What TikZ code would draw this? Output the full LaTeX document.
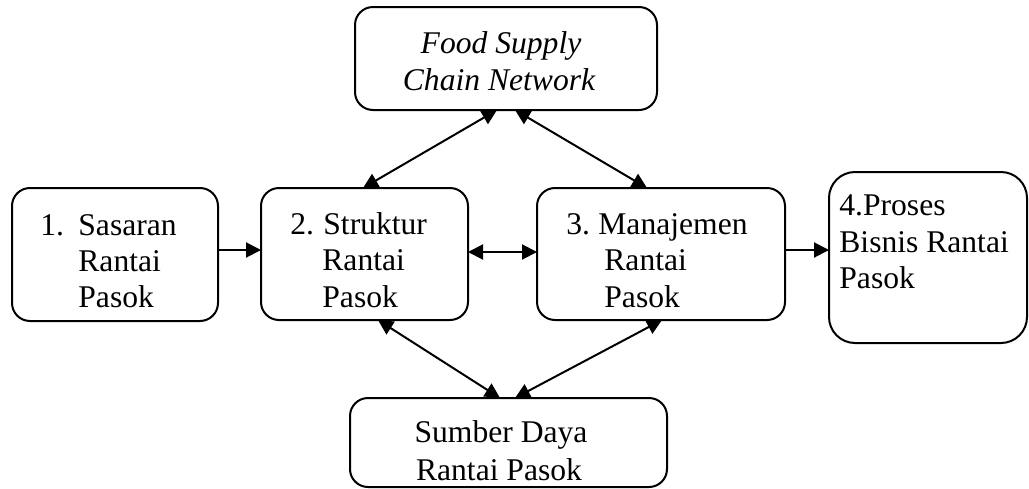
\documentclass[tikz,border=0pt]{standalone}
\usepackage{fontspec}
\setmainfont{Liberation Serif}
\usetikzlibrary{arrows.meta}
\tikzset{
  box/.style={draw, line width=1pt, rounded corners=9pt, inner sep=0pt, outer sep=0pt},
  txt/.style={anchor=base west, inner sep=0pt, font=\fontsize{15.8}{18.3}\selectfont},
  ctxt/.style={anchor=base, inner sep=0pt, font=\fontsize{15.8}{18.3}\selectfont},
  tip/.style={Triangle[length=7.5pt,width=7.5pt]},
  conn/.style={line width=1pt, -{Triangle[length=7.5pt,width=7.5pt]}},
  dconn/.style={line width=1pt, {Triangle[length=7.5pt,width=7.5pt]}-{Triangle[length=7.5pt,width=7.5pt]}}
}
\begin{document}
\begin{tikzpicture}[x=0.5pt,y=-0.5pt]
\useasboundingbox (0,0) rectangle (1029,488);
% boxes
\node[box, minimum width=151pt, minimum height=51.5pt] (top) at (506,58.5) {};
\node[box, minimum width=103pt, minimum height=66.5pt] (b1) at (115,254.5) {};
\node[box, minimum width=103.5pt, minimum height=66pt] (b2) at (364.5,254) {};
\node[box, minimum width=124pt, minimum height=66pt] (b3) at (661,254) {};
\node[box, rounded corners=13pt, minimum width=99pt, minimum height=85.5pt] (b4) at (928,257.5) {};
\node[box, minimum width=158.5pt, minimum height=44.5pt] (bot) at (508.5,442.5) {};
% texts
\node[ctxt] (ta) at (501,53) {\itshape Food Supply};
\node[ctxt] (tb) at (499,90) {\itshape Chain Network};
\node[txt] (t1a) at (40,235) {1.};
\node[txt] (t1b) at (78,235) {Sasaran};
\node[txt] (t1c) at (78,271) {Rantai};
\node[txt] (t1d) at (78,307) {Pasok};
\node[txt] (t2a) at (290,234) {2.};
\node[txt] (t2b) at (323,234) {Struktur};
\node[txt] (t2c) at (322,270) {Rantai};
\node[txt] (t2d) at (322,307) {Pasok};
\node[txt] (t3a) at (566,234) {3.};
\node[txt] (t3b) at (598,234) {Manajemen};
\node[txt] (t3c) at (604,270) {Rantai};
\node[txt] (t3d) at (604,307) {Pasok};
\node[txt] (t4a) at (839,215) {4.Proses};
\node[txt] (t4b) at (839,252) {Bisnis Rantai};
\node[txt] (t4c) at (839,288) {Pasok};
\node[ctxt] (tc) at (501,442) {Sumber Daya};
\node[ctxt] (td) at (499,480) {Rantai Pasok};
% connectors
\draw[dconn] ([xshift=-4.5pt]top.south) -- ([xshift=-0.75pt]b2.north);
\draw[dconn] ([xshift=4.5pt]top.south) -- ([xshift=-7pt]b3.north);
\draw[dconn] ([xshift=6.75pt]b2.south) -- ([xshift=-4.25pt]bot.north);
\draw[dconn] ([xshift=0.5pt]b3.south) -- ([xshift=3.25pt]bot.north);
\draw[conn] ([yshift=2.25pt]b1.east) -- ([yshift=2.25pt]b1.east -| b2.west);
\draw[dconn] ([yshift=1pt]b2.east) -- ([yshift=1pt]b3.west);
\draw[conn] ([yshift=2pt]b3.east) -- ([yshift=2pt]b3.east -| b4.west);
\end{tikzpicture}
\end{document}
